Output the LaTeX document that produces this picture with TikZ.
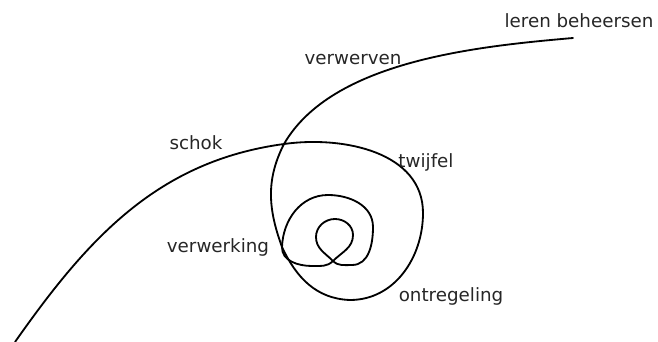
\documentclass[tikz,border=0pt]{standalone}
\usepackage{fontspec}
\setmainfont{DejaVu Sans}
\begin{document}
\begin{tikzpicture}[x=0.025cm, y=0.025cm,
  fase/.style={font=\fontsize{13}{15}\selectfont, text=black!85, inner sep=1pt},
  lijn/.style={line width=1.3pt, black, line cap=round}]
  \useasboundingbox (0,0) rectangle (658,342);
  % de lange lijn: van onder links, een grote lus, naar rechtsboven
  \draw[lijn] (15,0) .. controls (88,104) and (158,181) .. (284,198)
    to[out=8,in=90] (423,129)
    to[out=-90,in=0] (350,42) to[out=178,in=-65] (282,95)
    to[out=110,in=-117] (284,198) to[out=60,in=185,looseness=0.8] (573,304);
  % binnenste lus met krul
  \draw[lijn] (282,95) to[out=-92,in=180] (312,76) to[out=0,in=-135] (333,81)
    to[out=45,in=-90] (353,107) to[out=90,in=0] (335,123) to[out=180,in=90] (316,105)
    to[out=-90,in=135] (333,81) to[out=-45,in=180] (352,77) to[out=0,in=-90] (373,115)
    to[out=90,in=0] (328,147) to[out=180,in=88] (282,95);
  \node[fase] (beheersen) at (579,321) {leren beheersen};
  \node[fase] (verwerven) at (353,282) {verwerven};
  \node[fase] (schok) at (196,199) {schok};
  \node[fase] (twijfel) at (426,180) {twijfel};
  \node[fase] (verwerking) at (218,95) {verwerking};
  \node[fase] (ontregeling) at (451,46) {ontregeling};
\end{tikzpicture}
\end{document}
